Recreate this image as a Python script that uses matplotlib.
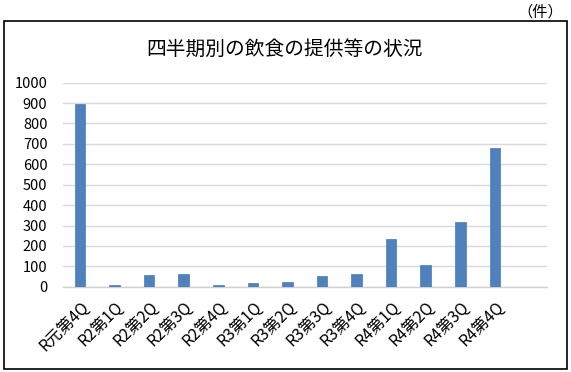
import matplotlib
matplotlib.use("Agg")
import matplotlib.pyplot as plt
from matplotlib.patches import Rectangle

plt.rcParams['font.family'] = ['Noto Sans CJK JP', 'DejaVu Sans']

categories = ["R元第4Q", "R2第1Q", "R2第2Q", "R2第3Q", "R2第4Q", "R3第1Q", "R3第2Q",
              "R3第3Q", "R3第4Q", "R4第1Q", "R4第2Q", "R4第3Q", "R4第4Q"]
values = [895, 10, 59, 64, 8, 20, 25, 52, 64, 234, 108, 319, 681]
yticks = [0, 100, 200, 300, 400, 500, 600, 700, 800, 900, 1000]
title = "四半期別の飲食の提供等の状況"
unit = "（件）"

W, H = 571, 372
fig = plt.figure(figsize=(W / 100, H / 100), dpi=100)

# outer frame
fig.patches.append(Rectangle((3.5 / W, 1 - 369 / H), 563 / W, 348 / H,
                             transform=fig.transFigure, fill=False,
                             edgecolor="black", linewidth=1.2))
fig.text(563 / W, 1 - 12 / H, unit, ha="right", va="center", fontsize=11)
fig.text(284 / W, 1 - 49 / H, title, ha="center", va="center", fontsize=14.2)

ax = fig.add_axes([62.7 / W, 1 - 286.7 / H, 484 / W, 204 / H])
x = list(range(len(categories)))
ax.bar(x, values, width=0.305, color="#4f81bd", edgecolor="#4a7ab5", linewidth=0.5, zorder=3)
ax.set_xlim(-0.5, len(categories) + 0.5)
ax.set_ylim(0, 1000)
ax.set_yticks(yticks)
ax.set_yticklabels([str(v) for v in yticks], fontsize=10.5)
ax.set_xticks(x)
ax.set_xticklabels(categories, rotation=45, ha="right", rotation_mode="anchor", fontsize=11.5)
ax.tick_params(axis="both", length=0)
ax.tick_params(axis="y", pad=11)
ax.tick_params(axis="x", pad=8)
ax.grid(axis="y", color="#d9d9d9", linewidth=1.0, zorder=0)
for s in ["top", "right", "left"]:
    ax.spines[s].set_visible(False)
ax.spines["bottom"].set_color("#d0d0d0")
ax.spines["bottom"].set_linewidth(1.0)

fig.savefig("out.png", dpi=100)
